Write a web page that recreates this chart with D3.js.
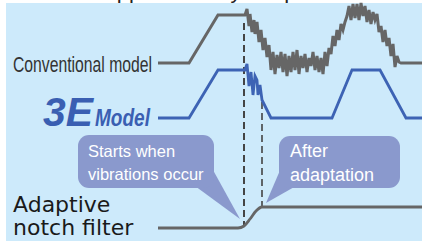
<!DOCTYPE html>
<html>
<head>
<meta charset="utf-8">
<script src="https://cdn.jsdelivr.net/npm/d3@7"></script>
<style>
  html, body { margin: 0; padding: 0; background: #fff; }
  svg { display: block; }
</style>
</head>
<body>
<div class="panel"></div>
<script>
// time axis is shared by all three traces, amplitude is per trace
const conventional = [
  [0,0],[31,0],[60,48],[87,48],
  [89,54],[91,37],[92,49],[94,31],[96,43],[97,29],[99,41],[101,21],[103,33],[105,13],
  [107,25],[109,6],[111,18],[113,-7],[115,11],[117,-11],[119,8],[121,-5],[123,11],[125,-9],
  [127,9],[129,-13],[131,7],[133,-9],[135,11],[137,-7],[139,13],[141,-11],[143,7],[145,-5],
  [147,9],[149,-9],[151,5],[153,-3],[155,11],[157,-7],[159,7],[161,-9],[163,5],[165,-11],
  [167,11],[169,-3],[171,15],[173,9],[175,27],[177,17],[179,33],[181,23],[183,39],[185,33],
  [187,41],[189,47],[191,57],[193,43],[195,59],[197,45],[199,59],[201,43],[203,60],[205,47],
  [207,57],[209,41],[211,53],[213,39],[215,51],[217,43],[219,49],[221,31],[223,37],[225,21],
  [227,33],[229,17],[231,25],[233,7],[235,19],[237,-4],[239,7],[241,1],[243,0],[264,0]
];

const model3E = [
  [0,0],[31,0],[60,48],[87,48],[89,54],[91,32],[93,46],[95,23],[97,42],[99,38],
  [100,23],[102,33],[104,18],[113,0],[174,0],[194,48],[222,48],[248,0],[264,0]
];

const notch = [[0,0],[80,0],[86,2],[92,9],[98,17],[104,21],[264,21]];

const vibrationStart = 86;
const adaptationDone = 104;

const bubbleStart = ["Starts when", "vibrations occur"];
const bubbleAfter = ["After", "adaptation"];
const notchLabel = ["Adaptive", "notch filter"];

const W = 422, H = 241;

const svg = d3.select(".panel").append("svg")
  .attr("width", W)
  .attr("height", H);

svg.append("rect")
  .attr("x", 6).attr("y", 3)
  .attr("width", W - 6).attr("height", H - 3)
  .attr("fill", "#cdeafb");

// caption above, cut off by the frame
svg.append("text")
  .attr("x", 1).attr("y", -2)
  .attr("font-family", "Liberation Sans, Arial, sans-serif")
  .attr("font-size", 22)
  .attr("fill", "#222")
  .text("Vibration suppression by adaptive control");

const x = d3.scaleLinear().domain([0, 264]).range([158, 422]);
const yConv = d3.scaleLinear().domain([0, 48]).range([63, 15]);
const y3E = d3.scaleLinear().domain([0, 48]).range([118, 70]);
const yNotch = d3.scaleLinear().domain([0, 21]).range([228, 207]);

// dashed markers
svg.append("line")
  .attr("x1", x(vibrationStart)).attr("x2", x(vibrationStart))
  .attr("y1", yConv(40)).attr("y2", yNotch(3))
  .attr("stroke", "#444").attr("stroke-width", 2)
  .attr("stroke-dasharray", "7,4");

svg.append("line")
  .attr("x1", x(adaptationDone)).attr("x2", x(adaptationDone))
  .attr("y1", y3E(16)).attr("y2", yNotch(21))
  .attr("stroke", "#444").attr("stroke-width", 1.6)
  .attr("stroke-dasharray", "7,4");

const lineConv = d3.line().x(d => x(d[0])).y(d => yConv(d[1]));
const line3E = d3.line().x(d => x(d[0])).y(d => y3E(d[1]));
const lineNotch = d3.line().x(d => x(d[0])).y(d => yNotch(d[1])).curve(d3.curveMonotoneX);

svg.append("path")
  .attr("d", lineConv(conventional))
  .attr("fill", "none").attr("stroke", "#666").attr("stroke-width", 3);

svg.append("path")
  .attr("d", line3E(model3E))
  .attr("fill", "none").attr("stroke", "#3d63b4").attr("stroke-width", 2.8);

svg.append("path")
  .attr("d", lineNotch(notch))
  .attr("fill", "none").attr("stroke", "#666").attr("stroke-width", 2.8);

// labels
svg.append("text")
  .attr("x", 13).attr("y", 72)
  .attr("font-family", "Liberation Sans, Arial, sans-serif")
  .attr("font-size", 22)
  .attr("textLength", 139).attr("lengthAdjust", "spacingAndGlyphs")
  .attr("fill", "#333")
  .text("Conventional model");

svg.append("text")
  .attr("x", 43).attr("y", 126)
  .attr("font-family", "Liberation Sans, Arial, sans-serif")
  .attr("font-weight", "bold").attr("font-style", "italic")
  .attr("font-size", 40)
  .attr("textLength", 50).attr("lengthAdjust", "spacingAndGlyphs")
  .attr("fill", "#3a5fb2")
  .text("3E");

svg.append("text")
  .attr("x", 95).attr("y", 126)
  .attr("font-family", "Liberation Sans, Arial, sans-serif")
  .attr("font-weight", "bold").attr("font-style", "italic")
  .attr("font-size", 24)
  .attr("textLength", 55).attr("lengthAdjust", "spacingAndGlyphs")
  .attr("fill", "#3a5fb2")
  .text("Model");

notchLabel.forEach((s, i) => {
  svg.append("text")
    .attr("x", 13).attr("y", 212 + i * 23)
    .attr("font-family", "DejaVu Sans, sans-serif")
    .attr("font-size", 22)
    .attr("fill", "#1a1a1a")
    .text(s);
});

// speech bubbles
const bubbleFill = "#8a99cd";

svg.append("path")
  .attr("d", "M195,186 L213,170 L240,219 Z")
  .attr("fill", bubbleFill);
svg.append("rect")
  .attr("x", 78).attr("y", 135).attr("width", 136).attr("height", 53)
  .attr("rx", 11).attr("fill", bubbleFill);

svg.append("path")
  .attr("d", "M281,168 L266,203 L296,186 Z")
  .attr("fill", bubbleFill);
svg.append("rect")
  .attr("x", 279).attr("y", 136).attr("width", 121).attr("height", 52)
  .attr("rx", 11).attr("fill", bubbleFill);

bubbleStart.forEach((s, i) => {
  svg.append("text")
    .attr("x", 88).attr("y", 157 + i * 23)
    .attr("font-family", "Liberation Sans, Arial, sans-serif")
    .attr("font-size", 16.5)
    .attr("fill", "#fff")
    .text(s);
});

bubbleAfter.forEach((s, i) => {
  svg.append("text")
    .attr("x", 290).attr("y", 157 + i * 24)
    .attr("font-family", "Liberation Sans, Arial, sans-serif")
    .attr("font-size", 18)
    .attr("fill", "#fff")
    .text(s);
});
</script>
</body>
</html>
